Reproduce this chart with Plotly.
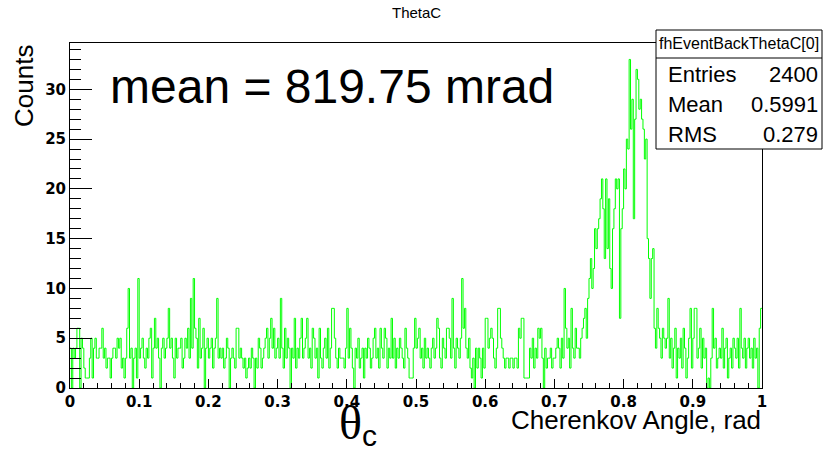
import numpy as np
import plotly.graph_objects as go

# Histogram of the reconstructed Cherenkov angle: 500 bins over [0, 1] rad
x_min, x_max = 0.0, 1.0

counts_000_099 = [
    4, 0, 4, 3, 4, 6, 6, 0, 5, 4, 2, 1, 1, 1, 3, 5, 1, 4, 5, 3,
    3, 4, 4, 6, 3, 4, 2, 3, 3, 1, 3, 4, 4, 3, 5, 4, 5, 2, 3, 1,
    3, 6, 10, 3, 4, 0, 3, 4, 1, 11,
]
counts_100_199 = [
    3, 4, 5, 3, 2, 4, 3, 5, 6, 1, 4, 7, 4, 5, 3, 0, 4, 5, 3, 4,
    5, 8, 4, 5, 3, 1, 5, 3, 4, 4, 5, 2, 3, 5, 4, 6, 3, 9, 4, 11,
    6, 5, 2, 7, 3, 4, 6, 0, 4, 5,
]
counts_200_299 = [
    3, 4, 5, 2, 4, 5, 9, 3, 4, 3, 4, 2, 3, 5, 4, 0, 3, 4, 3, 2,
    6, 6, 3, 4, 3, 2, 3, 1, 2, 3, 2, 4, 3, 0, 3, 2, 5, 4, 2, 3,
    4, 5, 6, 3, 5, 7, 4, 6, 3, 4,
]
counts_300_399 = [
    5, 3, 9, 4, 2, 6, 3, 5, 4, 0, 4, 3, 7, 2, 4, 3, 5, 7, 3, 4,
    5, 7, 3, 4, 2, 6, 5, 3, 4, 1, 6, 3, 2, 4, 5, 3, 6, 2, 4, 8,
    8, 5, 3, 2, 4, 3, 3, 3, 2, 4,
]
counts_400_499 = [
    8, 3, 6, 4, 2, 0, 4, 3, 5, 2, 3, 4, 1, 4, 3, 5, 4, 2, 3, 5,
    6, 3, 4, 2, 6, 4, 3, 6, 5, 2, 4, 3, 7, 3, 5, 2, 4, 3, 5, 4,
    3, 2, 6, 4, 3, 1, 1, 1, 4, 7,
]
counts_500_599 = [
    4, 5, 6, 3, 4, 2, 5, 3, 4, 3, 2, 4, 5, 3, 4, 7, 6, 3, 2, 5,
    4, 3, 6, 6, 5, 3, 9, 4, 2, 5, 4, 3, 5, 11, 6, 8, 4, 3, 5, 2,
    1, 3, 0, 4, 2, 4, 3, 1, 4, 2,
]
counts_600_699 = [
    7, 7, 4, 5, 6, 5, 3, 2, 4, 8, 8, 5, 4, 3, 2, 3, 3, 2, 3, 3,
    2, 3, 3, 2, 6, 5, 7, 7, 1, 1, 1, 1, 4, 3, 5, 2, 4, 3, 6, 5,
    6, 3, 0, 4, 2, 3, 3, 4, 2, 3,
]
counts_700_799 = [
    3, 4, 5, 4, 2, 5, 3, 10, 6, 4, 5, 2, 8, 4, 3, 6, 4, 4, 3, 5,
    6, 7, 8, 5, 9, 11, 13, 10, 12, 16, 14, 16, 17, 19, 21, 18, 13, 21, 14, 19,
    12, 10, 16, 18, 21, 20, 21, 7, 16, 18,
]
counts_800_899 = [
    22, 20, 25, 24, 33, 26, 29, 17, 27, 32, 31, 28, 29, 27, 26, 23, 25, 15, 13, 9,
    13, 14, 6, 4, 8, 6, 5, 3, 6, 5, 4, 5, 9, 3, 5, 2, 4, 6, 1, 4,
    3, 5, 2, 6, 4, 1, 3, 5, 8, 2,
]
counts_900_999 = [
    5, 8, 8, 3, 4, 6, 2, 5, 3, 4, 0, 1, 0, 3, 8, 4, 5, 2, 3, 4,
    3, 6, 2, 4, 5, 1, 3, 4, 2, 5, 4, 3, 5, 2, 8, 4, 3, 5, 2, 4,
    5, 3, 4, 2, 5, 3, 4, 0, 6, 8,
]

counts = (counts_000_099 + counts_100_199 + counts_200_299 + counts_300_399
          + counts_400_499 + counts_500_599 + counts_600_699 + counts_700_799
          + counts_800_899 + counts_900_999)

x_tick_vals = [0, 0.1, 0.2, 0.3, 0.4, 0.5, 0.6, 0.7, 0.8, 0.9, 1]
x_tick_text = ["0", "0.1", "0.2", "0.3", "0.4", "0.5", "0.6", "0.7", "0.8", "0.9", "1"]

title_text = "ThetaC"
x_title = "Cherenkov Angle, rad"
y_title = "Counts"
mean_label = "mean = 819.75 mrad"
stats_name = "fhEventBackThetaC[0]"
stats_rows = [("Entries", "2400"), ("Mean", "0.5991"), ("RMS", "0.279")]

n_bins = len(counts)
edges = np.linspace(x_min, x_max, n_bins + 1)
step_x = list(edges[:-1]) + [x_max]
step_y = list(counts) + [counts[-1]]
y_top = max(counts) * 1.05

# canvas geometry (pixels)
W, H = 825, 453
L, R, T, B = 70, 762, 43, 388


def px(p):
    return (p - L) / (R - L)


def py(p):
    return (B - p) / (B - T)


fig = go.Figure()
fig.add_trace(go.Scatter(
    x=step_x, y=step_y, mode="lines",
    line=dict(color="#00ff00", width=1, shape="hv"),
    hoverinfo="skip", showlegend=False,
))

axis_font = dict(family="DejaVu Sans, sans-serif", size=15,
                 color="black", weight="bold")

fig.update_xaxes(
    range=[x_min, x_max], tickmode="array",
    tickvals=x_tick_vals, ticktext=x_tick_text,
    ticks="inside", ticklen=9, tickwidth=1, tickcolor="black",
    minor=dict(dtick=0.02, tick0=0, ticks="inside", ticklen=5, tickcolor="black"),
    showline=True, linecolor="black", linewidth=1, mirror=True,
    showgrid=False, zeroline=False, tickfont=axis_font,
)
fig.update_yaxes(
    range=[0, y_top], dtick=5, tick0=0,
    ticks="inside", ticklen=22, tickwidth=1, tickcolor="black",
    minor=dict(dtick=1, ticks="inside", ticklen=11, tickcolor="black"),
    showline=True, linecolor="black", linewidth=1, mirror=True,
    showgrid=False, zeroline=False, tickfont=axis_font,
)

sans = "Liberation Sans, Arial, sans-serif"
ann = []
ann.append(dict(text=title_text, x=px(417), y=py(12), xref="paper", yref="paper",
                xanchor="center", yanchor="middle", showarrow=False,
                font=dict(family=sans, size=15, color="black")))
ann.append(dict(text=x_title, x=px(763), y=py(420), xref="paper", yref="paper",
                xanchor="right", yanchor="middle", showarrow=False,
                font=dict(family=sans, size=26, color="black")))
ann.append(dict(text=y_title, x=px(24), y=py(43), xref="paper", yref="paper",
                xanchor="center", yanchor="top", textangle=-90, showarrow=False,
                font=dict(family=sans, size=26, color="black")))
ann.append(dict(text=mean_label, x=px(108), y=py(86), xref="paper", yref="paper",
                xanchor="left", yanchor="middle", showarrow=False,
                font=dict(family=sans, size=48, color="black")))
ann.append(dict(text="θ", x=px(350), y=py(422), xref="paper", yref="paper",
                xanchor="center", yanchor="middle", showarrow=False,
                font=dict(family="Liberation Serif, Times New Roman, serif",
                          size=48, color="black")))
ann.append(dict(text="c", x=px(369), y=py(435), xref="paper", yref="paper",
                xanchor="center", yanchor="middle", showarrow=False,
                font=dict(family=sans, size=30, color="black")))

# statistics box
bx0, bx1, by0, by1, bsep = 656, 822, 30, 149, 58
shapes = [
    dict(type="rect", xref="paper", yref="paper", x0=px(bx0), x1=px(bx1),
         y0=py(by1), y1=py(by0), line=dict(color="black", width=1),
         fillcolor="white", layer="above"),
    dict(type="line", xref="paper", yref="paper", x0=px(bx0), x1=px(bx1),
         y0=py(bsep), y1=py(bsep), line=dict(color="black", width=1),
         layer="above"),
]
ann.append(dict(text=stats_name, x=px((bx0 + bx1) / 2), y=py(44),
                xref="paper", yref="paper", xanchor="center", yanchor="middle",
                showarrow=False, font=dict(family=sans, size=16, color="black")))
for i, (k, v) in enumerate(stats_rows):
    yc = 74 + 30 * i
    ann.append(dict(text=k, x=px(666), y=py(yc), xref="paper", yref="paper",
                    xanchor="left", yanchor="middle", showarrow=False,
                    font=dict(family=sans, size=22, color="black")))
    ann.append(dict(text=v, x=px(820), y=py(yc), xref="paper", yref="paper",
                    xanchor="right", yanchor="middle", showarrow=False,
                    font=dict(family=sans, size=22, color="black")))

fig.update_layout(
    width=W, height=H,
    margin=dict(l=L, r=W - R, t=T, b=H - B, pad=0),
    paper_bgcolor="white", plot_bgcolor="white",
    annotations=ann, shapes=shapes, showlegend=False,
)

fig.write_html("out.html", config={"displayModeBar": False})
